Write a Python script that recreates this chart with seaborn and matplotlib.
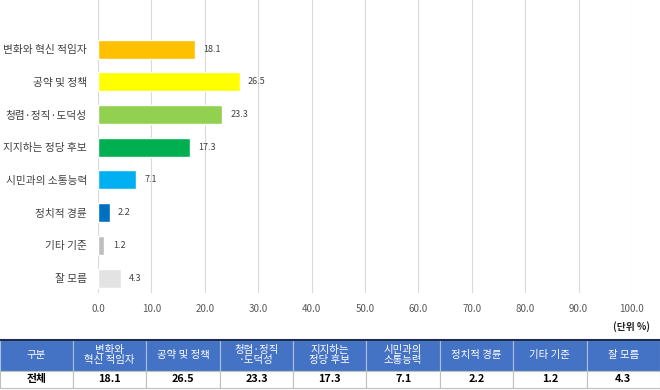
import matplotlib
matplotlib.use("Agg")
import matplotlib.pyplot as plt
import seaborn as sns
import pandas as pd

# data
categories = ["변화와 혁신 적임자", "공약 및 정책", "청렴·정직·도덕성", "지지하는 정당 후보",
              "시민과의 소통능력", "정치적 경륜", "기타 기준", "잘 모름"]
values = [18.1, 26.5, 23.3, 17.3, 7.1, 2.2, 1.2, 4.3]
colors = ["#FFC000", "#FFFF00", "#92D050", "#00B050", "#00B0F0", "#0070C0", "#BFBFBF", "#E3E3E3"]
x_ticks = [0, 10, 20, 30, 40, 50, 60, 70, 80, 90, 100]
header_labels = ["구분", "변화와\n혁신 적임자", "공약 및 정책", "청렴·정직\n·도덕성", "지지하는\n정당 후보",
                 "시민과의\n소통능력", "정치적 경륜", "기타 기준", "잘 모름"]
row_label = "전체"

sns.set_theme(style="white")
plt.rcParams["font.family"] = ["Noto Sans CJK KR", "DejaVu Sans"]

df = pd.DataFrame({"category": categories, "value": values})

fig = plt.figure(figsize=(6.6, 3.9), dpi=100)
ax = fig.add_axes([0.1485, 0.249, 0.809, 0.751])

sns.barplot(data=df, y="category", x="value", hue="category", palette=colors,
            orient="h", width=0.58, legend=False, ax=ax, saturation=1)

for c in ax.containers:
    ax.bar_label(c, fmt="%.1f", padding=6, fontsize=6.5, color="#404040")

ax.set_xlim(0, 100)
ax.set_ylim(7.45, -1.5)
ax.set_xticks(x_ticks)
ax.set_xticklabels([f"{t:.1f}" for t in x_ticks], fontsize=7, color="#595959")
ax.tick_params(axis="y", labelsize=7.7, labelcolor="#404040", length=0, pad=8)
ax.tick_params(axis="x", length=0, pad=8)
ax.set_xlabel("")
ax.set_ylabel("")
ax.grid(axis="x", color="#D9D9D9", linewidth=0.8)
ax.set_axisbelow(True)
for s in ax.spines.values():
    s.set_visible(False)

fig.text(0.985, 0.162, "(단위 %)", ha="right", va="center", fontsize=7, color="#222222",
         fontweight="bold")

# table below
tax = fig.add_axes([0, 0.005, 1, 0.123])
tax.axis("off")
first_w = 73 / 660
other_w = (1 - first_w) / 8
col_widths = [first_w] + [other_w] * 8
cell_text = [[row_label] + [f"{v:.1f}" for v in values]]
tbl = tax.table(cellText=cell_text, colLabels=header_labels, colWidths=col_widths,
                bbox=[0, 0, 1, 1], cellLoc="center")
tbl.auto_set_font_size(False)
for (r, c), cell in tbl.get_celld().items():
    if r == 0:
        cell.set_height(0.64)
        cell.set_facecolor("#4472C4")
        cell.set_edgecolor("#A9BFE8")
        cell.set_linewidth(0.8)
        cell.get_text().set_color("white")
        cell.get_text().set_fontsize(7.5)
        cell.get_text().set_linespacing(1.0)
    else:
        cell.set_height(0.36)
        cell.set_facecolor("white")
        cell.set_edgecolor("#BFBFBF")
        cell.set_linewidth(0.8)
        cell.get_text().set_fontsize(7.8)
        cell.get_text().set_fontweight("bold")
        cell.get_text().set_color("black")

# dark top border of the table
tax.plot([0, 1], [1, 1], color="#1F2D4D", linewidth=1.5, transform=tax.transAxes, clip_on=False)

fig.savefig("out.png", dpi=100)
